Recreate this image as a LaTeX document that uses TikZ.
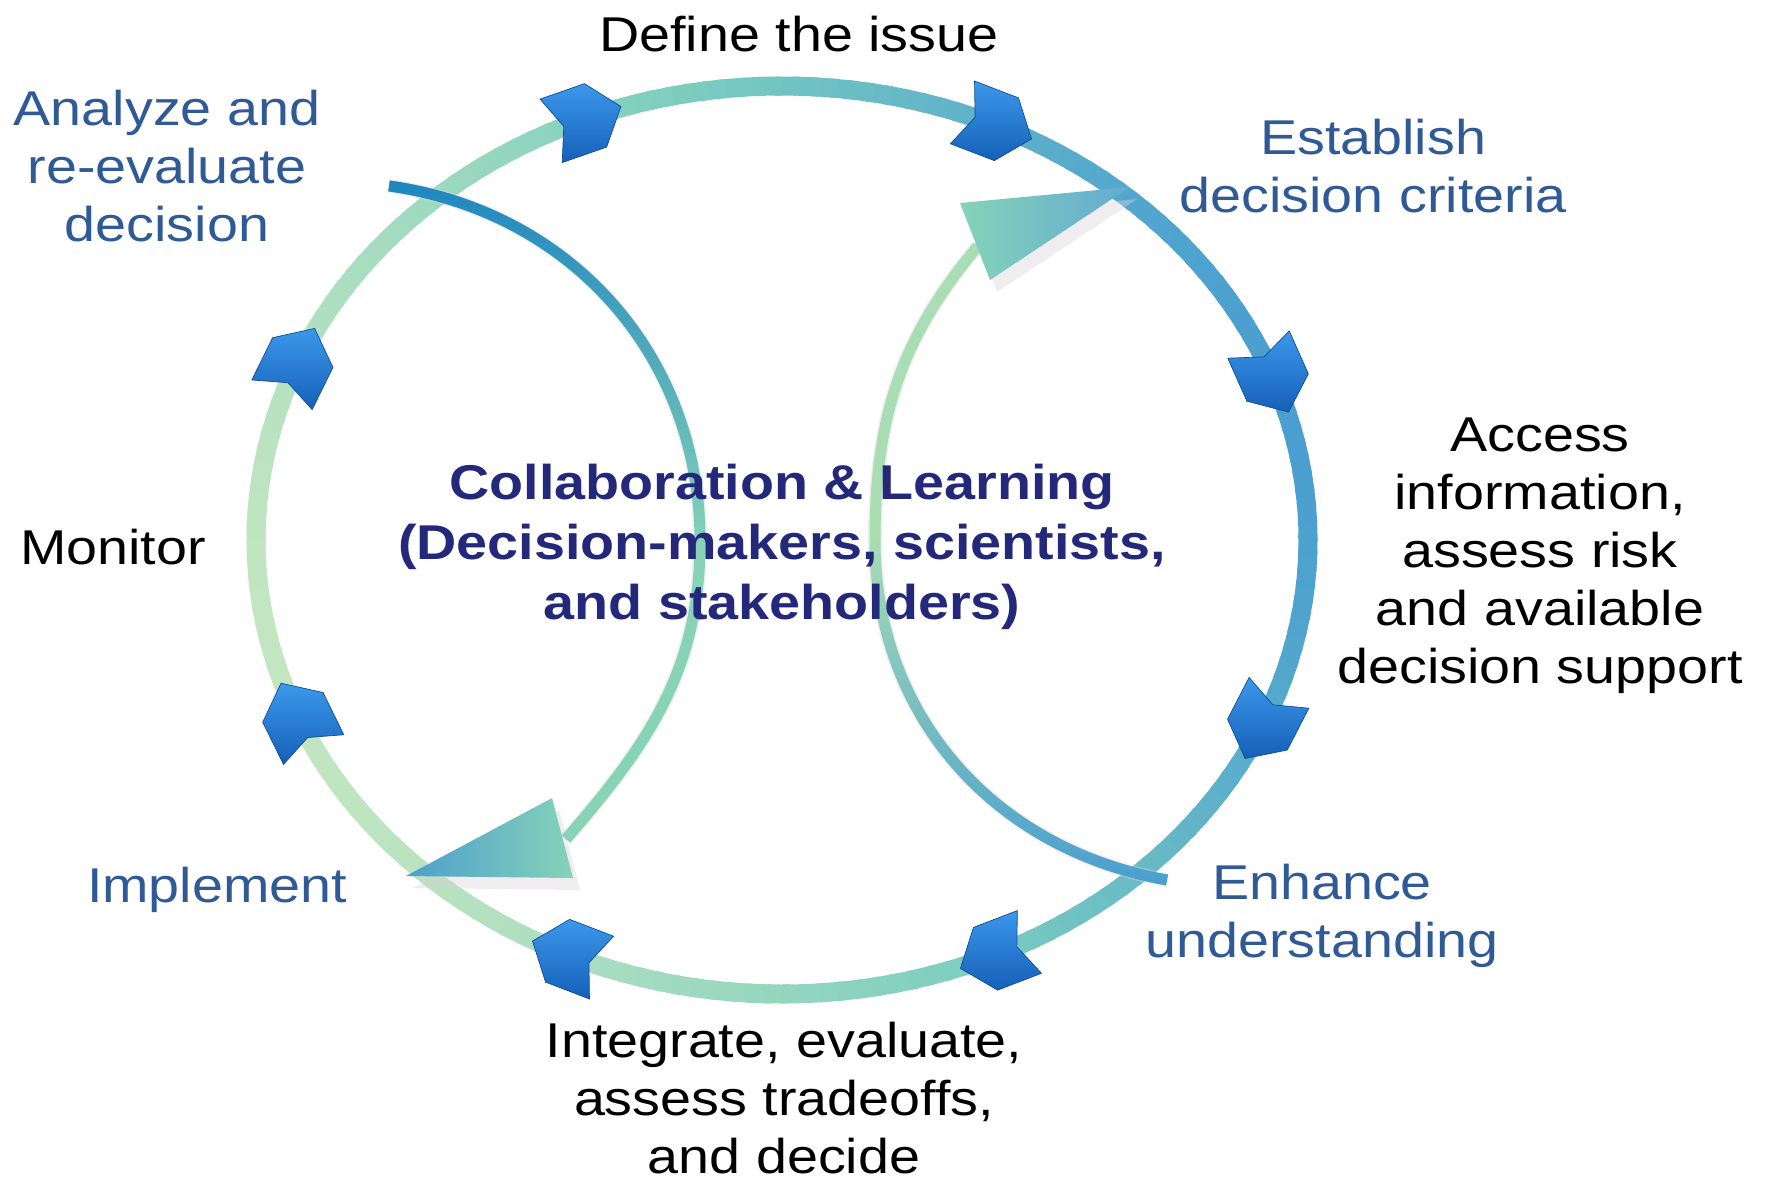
\documentclass[tikz,border=0pt]{standalone}
\usepackage{fontspec}
\setmainfont{Liberation Sans}[FakeStretch=1.14]
\usetikzlibrary{fadings}
\definecolor{ringblue}{HTML}{4A9FD0}
\definecolor{ringteal}{HTML}{7CCDBF}
\definecolor{ringgreen}{HTML}{C2E6C0}
\definecolor{txtblue}{HTML}{2F5A96}
\definecolor{txtnavy}{HTML}{24287A}
\definecolor{chevlight}{HTML}{3C98EA}
\definecolor{chevdark}{HTML}{1560B8}
\definecolor{innerblue}{HTML}{1F86C0}
\definecolor{innermint}{HTML}{86D3B8}
\definecolor{innerpale}{HTML}{A9DDB4}
\definecolor{shadowgrey}{HTML}{D8D2DA}
\tikzfading[name=fadetop, top color=transparent!0, middle color=transparent!100, bottom color=transparent!100]
\tikzfading[name=fadebottom, top color=transparent!100, middle color=transparent!100, bottom color=transparent!0]

\begin{document}
\begin{tikzpicture}[x=0.1mm, y=0.1mm,
  lbl/.style={font=\fontsize{13.9}{16.5}\selectfont, align=center, inner sep=0pt},
  ringseg/.style={line width=1.9mm},
  innerarc/.style={line width=1.1mm},
  arcshadow/.style={line width=1.4mm, shadowgrey, opacity=0.4},
  chevron/.style={top color=chevlight, bottom color=chevdark, draw=chevdark!80!black, line width=0.2pt}]
  \fill[white] (0,0) rectangle (1769,1184);
  \useasboundingbox (0,0) rectangle (1769,1184);

  % outer ring, coloured piece by piece
  \foreach \a in {0,2,...,358}{
    \pgfmathsetmacro\u{(1-cos(\a-15))/2}
    \ifdim \u pt<0.45pt
      \pgfmathsetmacro\p{100*\u/0.45}
      \colorlet{segcol}{ringteal!\p!ringblue}
    \else
      \pgfmathsetmacro\p{100*(\u-0.45)/0.55}
      \colorlet{segcol}{ringgreen!\p!ringteal}
    \fi
    \draw[ringseg, segcol] plot[domain=\a:\a+2.8, samples=4] ({782+526*cos(\x)},{644+454*sin(\x)});
  }

  % inner arcs
  \coordinate (lstart) at (389,998);
  \coordinate (lmid) at (700,643);
  \coordinate (lend) at (566,345);
  \coordinate (rstart) at (1167,304);
  \coordinate (rmid) at (875,643);
  \coordinate (rend) at (978,938);
  % soft shadows first
  \begin{scope}[shift={(7,-12)}]
    \draw[arcshadow] (lstart) to[out=-8,in=90] (lmid) to[out=-90,in=49] (lend);
    \fill[shadowgrey, opacity=0.4] (406,308) -- (552,386) -- (573,306) -- cycle;
    \draw[arcshadow] (rstart) to[out=170,in=-90] (rmid) to[out=90,in=230] (rend);
    \fill[shadowgrey, opacity=0.4] (1130,997) -- (960,981) -- (990,904) -- cycle;
  \end{scope}
  \draw[innerarc, innermint] (lstart) to[out=-8,in=90] (lmid) to[out=-90,in=49] (lend);
  \draw[innerarc, innerblue, path fading=fadetop] (lstart) to[out=-8,in=90] (lmid);
  \shade[left color=innerblue!80, right color=innermint] (406,308) -- (552,386) -- (573,306) -- cycle;
  \draw[innerarc, innerpale] (rstart) to[out=170,in=-90] (rmid) to[out=90,in=230] (rend);
  \draw[innerarc, ringblue, path fading=fadebottom] (rstart) to[out=170,in=-90] (rmid);
  \shade[left color=innermint, right color=innerblue!70] (1130,997) -- (960,981) -- (990,904) -- cycle;

  % blue chevrons on the ring
  \foreach \ang in {112,66,21,-24,-66,-114,-157,157}{
    \pgfmathsetmacro\dir{atan2(-454*cos(\ang),526*sin(\ang))}
    \begin{scope}[shift={({782+526*cos(\ang)},{644+454*sin(\ang)})}, rotate=\dir, scale=1.12]
      \shade[chevron] (-32,30) -- (10,30) -- (34,0) -- (10,-30) -- (-32,-30) -- (-20,0) -- cycle;
    \end{scope}
  }

  % labels
  \node[lbl] (define) at (799,1150) {Define the issue};
  \node[lbl, txtblue] (analyze) at (167,1018) {Analyze and\\re-evaluate\\decision};
  \node[lbl, txtblue] (establish) at (1373,1018) {Establish\\decision criteria};
  \node[lbl] (access) at (1540,628) {Access\\information,\\assess risk\\and available\\decision support};
  \node[lbl] (monitor) at (113,637) {Monitor};
  \node[lbl, txtnavy, font=\fontsize{13.9}{17}\selectfont\bfseries] (collab) at (782,637)
    {Collaboration \& Learning\\(Decision-makers, scientists,\\and stakeholders)};
  \node[lbl, txtblue] (implement) at (217,294) {Implement};
  \node[lbl, txtblue] (enhance) at (1322,268) {Enhance\\understanding};
  \node[lbl] (integrate) at (784,86) {Integrate, evaluate,\\assess tradeoffs,\\and decide};
\end{tikzpicture}
\end{document}
